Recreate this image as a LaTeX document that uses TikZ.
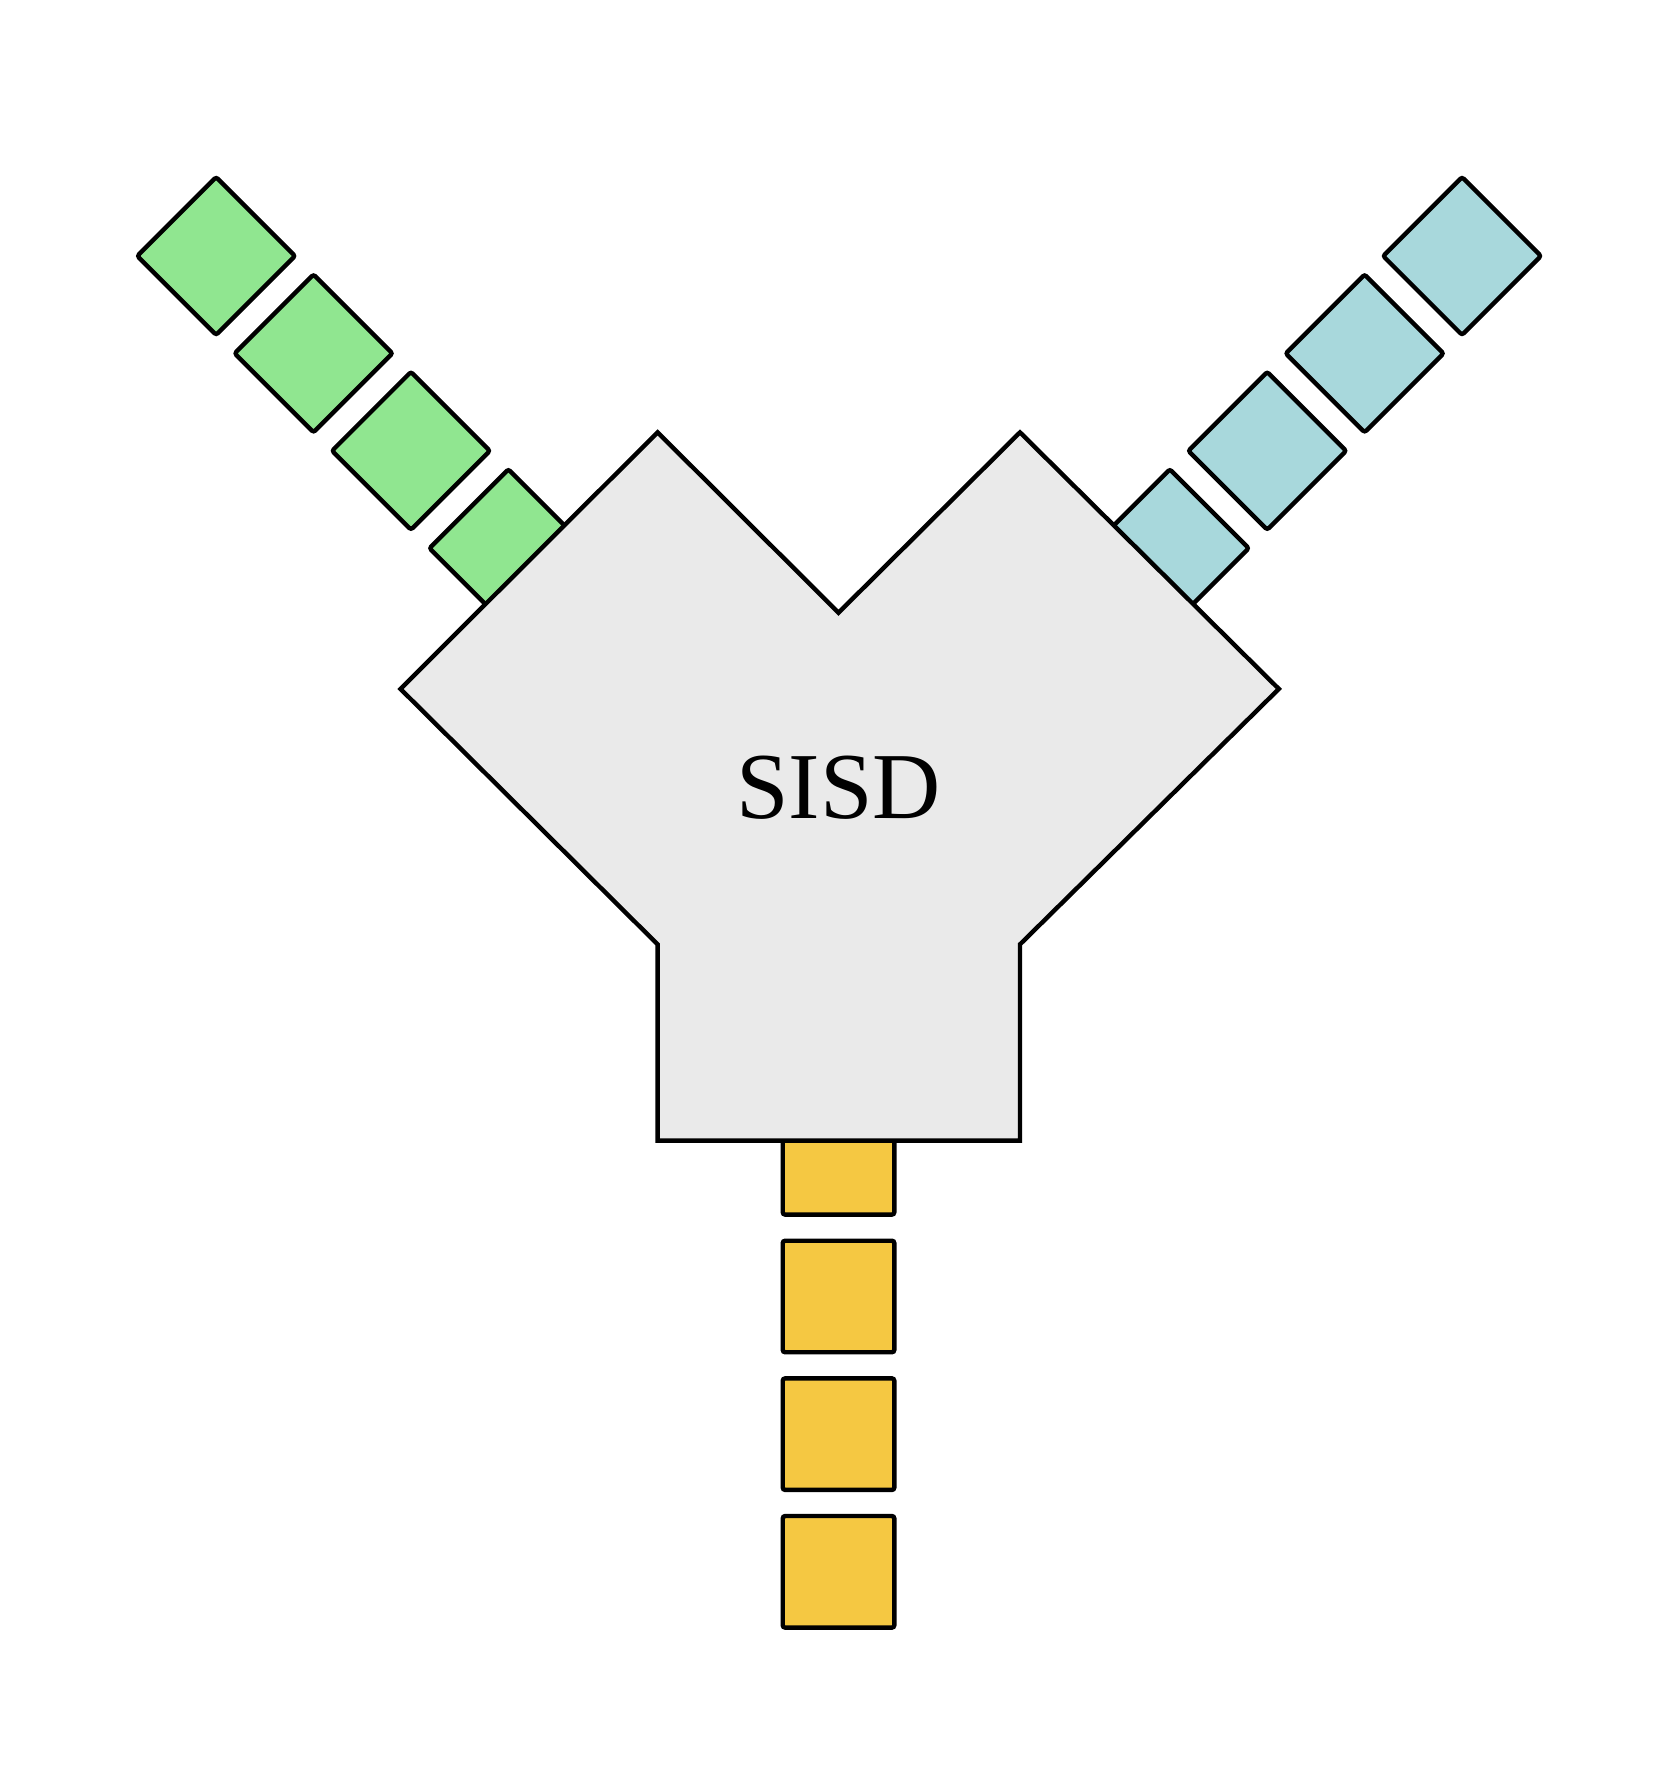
\documentclass[tikz,border=0pt]{standalone}
\usepackage{fontspec}
\setmainfont{Liberation Serif}
\definecolor{leafgreen}{HTML}{90E690}
\definecolor{leafblue}{HTML}{A8D8DC}
\definecolor{leafyellow}{HTML}{F5C842}
\definecolor{coregray}{HTML}{EAEAEA}
\begin{document}
\begin{tikzpicture}[
        x=0.01cm, y=-0.01cm,
        cell/.style={rectangle, draw, line width=1.1pt, minimum size=0.98cm, inner sep=0pt, rounded corners=0.6pt},
        gcell/.style={cell, fill=leafgreen, rotate=45},
        bcell/.style={cell, fill=leafblue, rotate=45},
        ycell/.style={cell, fill=leafyellow},
        core/.style={draw, line width=1.1pt, fill=coregray, line join=miter},
        core_label/.style={font=\fontsize{23.6}{28}\selectfont, anchor=base}
    ]
        \useasboundingbox (0,0) rectangle (1464,1568);

        % Left arm: green cells
        \node[gcell] (g1) at (190,225) {};
        \node[gcell] (g2) at (275.6,310.6) {};
        \node[gcell] (g3) at (361.2,396.2) {};
        \node[gcell] (g4) at (446.8,481.8) {};

        % Right arm: blue cells
        \node[bcell] (b1) at (1285,225) {};
        \node[bcell] (b2) at (1199.4,310.6) {};
        \node[bcell] (b3) at (1113.8,396.2) {};
        \node[bcell] (b4) at (1028.2,481.8) {};

        % Bottom arm: yellow cells
        \node[ycell] (y1) at (737,1381.5) {};
        \node[ycell] (y2) at (737,1260.5) {};
        \node[ycell] (y3) at (737,1139.5) {};
        \node[ycell] (y4) at (737,1018.5) {};

        % Central body drawn over the inner cells
        \draw[core] (578,380) -- (737,538.5) -- (896.5,380) -- (1124,605.5)
            -- (896.5,830) -- (896.5,1002.5) -- (578,1002.5) -- (578,830)
            -- (352,605.5) -- cycle;

        % Label
        \node[core_label] (sisd) at (737,719.5) {SISD};

    \end{tikzpicture}
\end{document}
